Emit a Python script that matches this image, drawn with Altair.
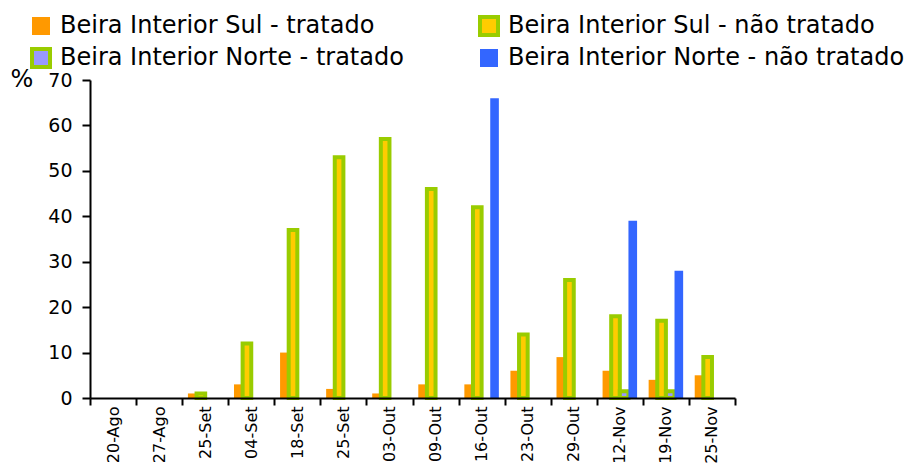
import altair as alt
import pandas as pd

dates = ["20-Ago", "27-Ago", "25-Set", "04-Set", "18-Set", "25-Set", "03-Out",
         "09-Out", "16-Out", "23-Out", "29-Out", "12-Nov", "19-Nov", "25-Nov"]
series = ["Beira Interior Sul - tratado", "Beira Interior Sul - não tratado",
          "Beira Interior Norte - tratado", "Beira Interior Norte - não tratado"]
# legend is laid out column by column: this order gives the reference's rows
legend_order = [series[0], series[2], series[1], series[3]]

sul_tratado = [None, None, 1, 3, 10, 2, 1, 3, 3, 6, 9, 6, 4, 5]
sul_nao_tratado = [None, None, 1, 12, 37, 53, 57, 46, 42, 14, 26, 18, 17, 9]
norte_tratado = [None, None, None, None, None, None, None, None, None, None, None, 1.5, 1.5, None]
norte_nao_tratado = [None, None, None, None, None, None, None, None, 66, None, None, 39, 28, None]

fill_of = {series[0]: "#FF9900", series[1]: "#FFCC00", series[2]: "#9999FF", series[3]: "#3366FF"}
stroke_of = {series[0]: "transparent", series[1]: "#99CC00", series[2]: "#99CC00", series[3]: "transparent"}

rows = []
for s, vals in zip(series, [sul_tratado, sul_nao_tratado, norte_tratado, norte_nao_tratado]):
    for i, v in enumerate(vals):
        if v is not None:
            rows.append({"idx": i, "series": s, "value": v})
df = pd.DataFrame(rows)

label_expr = "[" + ",".join("'%s'" % d for d in dates) + "][datum.value]"
FONT = "DejaVu Sans"

legend = alt.Legend(
    title=None, orient="none", legendX=-61, legendY=-66, columns=2,
    columnPadding=68, rowPadding=-2, symbolType="square", symbolSize=324,
    symbolStrokeWidth=4, labelFontSize=24, labelFont=FONT, labelColor="black",
    labelOffset=7, labelLimit=0,
)

chart = alt.Chart(df).mark_bar(strokeWidth=4).encode(
    x=alt.X("idx:O",
            scale=alt.Scale(domain=list(range(len(dates))), paddingInner=0, paddingOuter=0),
            axis=alt.Axis(title=None, labelExpr=label_expr, labelAngle=-90, tickBand="extent",
                          labelFontSize=16, labelFont=FONT, labelColor="black", labelPadding=1,
                          tickSize=7, tickWidth=2, tickColor="black", domainWidth=2,
                          domainColor="black", zindex=1)),
    xOffset=alt.XOffset("series:N",
                        scale=alt.Scale(domain=series, paddingOuter=0.67, paddingInner=0)),
    y=alt.Y("value:Q", stack=None, scale=alt.Scale(domain=[0, 70], nice=False),
            axis=alt.Axis(values=list(range(0, 71, 10)), title="%", titleAngle=0,
                          titleAlign="left", titleBaseline="alphabetic", titleX=-80, titleY=6,
                          titleFontSize=24, titleFontWeight="normal", titleFont=FONT,
                          titleColor="black", labelFontSize=19, labelFont=FONT,
                          labelColor="black", labelPadding=10, tickSize=8, tickWidth=2,
                          tickColor="black", domainWidth=2, domainColor="black",
                          grid=False, zindex=1)),
    fill=alt.Fill("series:N", scale=alt.Scale(domain=legend_order,
                                              range=[fill_of[s] for s in legend_order]),
                  legend=legend),
    stroke=alt.Stroke("series:N", scale=alt.Scale(domain=legend_order,
                                                  range=[stroke_of[s] for s in legend_order]),
                      legend=legend),
).properties(
    width=645, height=318,
    autosize=alt.AutoSizeParams(type="none"),
    padding={"left": 82, "top": 72, "right": 172, "bottom": 67},
).configure_view(stroke=None)

chart.save("out.html", embed_options={"renderer": "svg", "actions": False})
